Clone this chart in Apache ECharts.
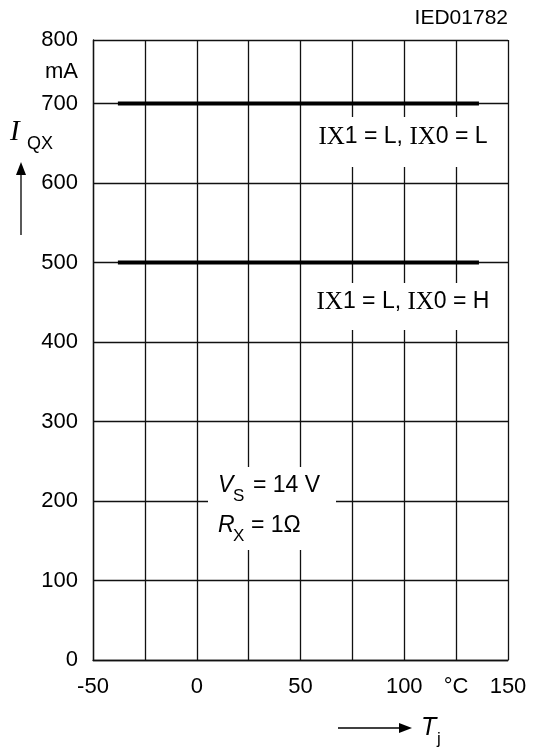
<!DOCTYPE html>
<html>
<head>
<meta charset="utf-8">
<script src="https://cdn.jsdelivr.net/npm/echarts@6/dist/echarts.min.js"></script>
<style>
  html, body { margin: 0; padding: 0; background: #fff; }
  #chart { width: 550px; height: 747px; }
</style>
</head>
<body>
<div id="chart"></div>
<script>
// junction temperature span of the two curves (°C)
const tempJ = [-38, 136];
// quiescent current I_QX (mA)
const currentLL = [700, 700]; // IX1 = L, IX0 = L
const currentLH = [500, 500]; // IX1 = L, IX0 = H
// axes
const xMin = -50, xMax = 150, xStep = 25;
const yMin = 0, yTop = 780, yStep = 100;
const yTopLabel = "800";
const xUnitAt = 125, xUnitLabel = "°C";

const SANS = "'Liberation Sans', Arial, sans-serif";
const SERIF = "'Liberation Serif', 'Times New Roman', serif";

function pairs(xs, ys) {
  return xs.map((x, i) => [x, ys[i]]);
}

function txt(x, y, text, extra) {
  return {
    type: "text", x: x, y: y, z: 110,
    style: Object.assign({
      text: text, fill: "#000", font: "22px " + SANS,
      align: "left", textAlign: "left",
      verticalAlign: "middle", textVerticalAlign: "middle"
    }, extra || {})
  };
}

const richSans = {
  n: { fontFamily: SANS, fontSize: 23, color: "#000" },
  s: { fontFamily: SERIF, fontSize: 25, color: "#000" }
};

function richTxt(x, y, text, align) {
  return {
    type: "text", x: x, y: y, z: 110,
    style: {
      text: text, rich: richSans, fill: "#000", font: "23px " + SANS,
      align: align || "left", textAlign: align || "left",
      verticalAlign: "middle", textVerticalAlign: "middle"
    }
  };
}

function whiteBox(x, y, w, h) {
  return { type: "rect", z: 100, shape: { x: x, y: y, width: w, height: h }, style: { fill: "#fff" } };
}

const gridLine = { show: true, lineStyle: { color: "#111", width: 1.3 } };

const option = {
  animation: false,
  backgroundColor: "#fff",
  grid: { left: 93, right: 42, top: 40, bottom: 87, containLabel: false },
  xAxis: {
    type: "value", min: xMin, max: xMax, interval: xStep,
    axisLine: { show: true, onZero: false, lineStyle: { color: "#111", width: 1.3 } },
    axisTick: { show: false },
    splitLine: gridLine,
    axisLabel: {
      margin: 16, color: "#000", fontSize: 22, fontFamily: SANS,
      formatter: v => (v === xUnitAt ? xUnitLabel : (v % 50 === 0 ? String(v) : ""))
    }
  },
  yAxis: {
    type: "value", min: yMin, max: yTop, interval: yStep,
    axisLine: { show: true, onZero: false, lineStyle: { color: "#111", width: 1.3 } },
    axisTick: { show: false },
    splitLine: gridLine,
    axisLabel: {
      margin: 15, color: "#000", fontSize: 22, fontFamily: SANS,
      showMaxLabel: true,
      formatter: v => (v > 700 ? yTopLabel : String(v))
    }
  },
  series: [
    {
      name: "IX1 = L, IX0 = L", type: "line", data: pairs(tempJ, currentLL),
      symbol: "none", lineStyle: { color: "#000", width: 4 }, z: 5
    },
    {
      name: "IX1 = L, IX0 = H", type: "line", data: pairs(tempJ, currentLH),
      symbol: "none", lineStyle: { color: "#000", width: 4 }, z: 5
    }
  ],
  graphic: [
    txt(508, 18, "IED01782", { font: "21px " + SANS, align: "right", textAlign: "right" }),
    txt(78, 72, "mA", { align: "right", textAlign: "right" }),
    // y axis name I_QX with arrow
    txt(10, 132, "I", { font: "italic 29px " + SERIF }),
    txt(27, 144, "QX", { font: "18px " + SANS }),
    { type: "line", z: 110, shape: { x1: 21, y1: 235, x2: 21, y2: 172 }, style: { stroke: "#000", lineWidth: 1.3 } },
    { type: "polygon", z: 110, shape: { points: [[21, 162], [16, 175], [26, 175]] }, style: { fill: "#000" } },
    // x axis name T_j with arrow
    { type: "line", z: 110, shape: { x1: 338, y1: 728, x2: 401, y2: 728 }, style: { stroke: "#000", lineWidth: 1.3 } },
    { type: "polygon", z: 110, shape: { points: [[412, 728], [399, 723], [399, 733]] }, style: { fill: "#000" } },
    txt(421, 728, "T", { font: "italic 25px " + SANS }),
    txt(437, 739, "j", { font: "17px " + SANS }),
    // curve labels
    whiteBox(310, 117, 185, 50),
    richTxt(403, 137, "{s|IX}{n|1 = L, }{s|IX}{n|0 = L}", "center"),
    whiteBox(310, 283, 185, 47),
    richTxt(403, 302, "{s|IX}{n|1 = L, }{s|IX}{n|0 = H}", "center"),
    // conditions
    whiteBox(208, 467, 128, 83),
    txt(218, 486, "V", { font: "italic 23px " + SANS }),
    txt(233, 496, "S", { font: "17px " + SANS }),
    txt(253, 486, "= 14 V", { font: "23px " + SANS }),
    txt(218, 526, "R", { font: "italic 23px " + SANS }),
    txt(233, 536, "X", { font: "17px " + SANS }),
    txt(251, 526, "= 1Ω", { font: "23px " + SANS })
  ]
};

const chart = echarts.init(document.getElementById("chart"), null, { renderer: "canvas" });
chart.setOption(option);
window.onresize = () => chart.resize();
</script>
</body>
</html>
